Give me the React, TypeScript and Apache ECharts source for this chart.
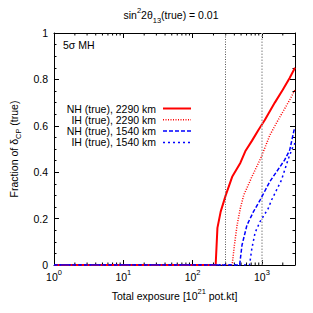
import React, { useEffect, useRef } from 'react';
import * as echarts from 'echarts';

const SERIES_NAMES = [
  'NH (true), 2290 km',
  'IH (true), 2290 km',
  'NH (true), 1540 km',
  'IH (true), 1540 km',
];
const NH_2290 = [[1, 0], [215, 0], [228, 0.16], [254, 0.23], [300, 0.30], [372, 0.38], [488, 0.44], [575, 0.49], [716, 0.535], [890, 0.582], [1100, 0.625], [1535, 0.70], [2000, 0.755], [2500, 0.805], [3000, 0.85]];
const IH_2290 = [[1, 0], [372, 0], [401, 0.086], [438, 0.172], [488, 0.244], [545, 0.30], [716, 0.38], [961, 0.46], [1303, 0.56], [1712, 0.625], [2500, 0.71], [3000, 0.755]];
const NH_1540 = [[1, 0], [477, 0], [516, 0.086], [608, 0.172], [755, 0.23], [940, 0.28], [1303, 0.36], [2130, 0.453], [2520, 0.496], [2900, 0.58], [3000, 0.59]];
const IH_1540 = [[1, 0], [662, 0], [716, 0.072], [798, 0.14], [940, 0.187], [1233, 0.244], [1378, 0.28], [1913, 0.366], [2375, 0.453], [2800, 0.51], [3000, 0.525]];
const VLINES = [300, 1000];
const MINOR_X = [2, 3, 4, 5, 6, 7, 8, 9, 20, 30, 40, 50, 60, 70, 80, 90, 200, 300, 400, 500, 600, 700, 800, 900, 2000];
const X_MIN = 1;
const X_MAX = 3000;
const Y_MIN = 0;
const Y_MAX = 1;
const Y_STEP = 0.2;

const FONT = 'Liberation Sans';
const FS = 10.5;
const rich = {
  n: { fontFamily: FONT, fontSize: FS, color: '#000', lineHeight: 18, verticalAlign: 'middle' },
  sup: { fontFamily: FONT, fontSize: 7.5, color: '#000', lineHeight: 8, verticalAlign: 'top' },
  sub: { fontFamily: FONT, fontSize: 7.5, color: '#000', lineHeight: 8, verticalAlign: 'bottom' },
};

const LINE_STYLES = [
  { color: '#ff0000', width: 2, type: 'solid' as any },
  { color: '#ff0000', width: 1.5, type: [1, 1.5] as any },
  { color: '#0000ff', width: 1.5, type: [4, 2] as any },
  { color: '#0000ff', width: 1.5, type: [2, 3] as any },
];
const DATASETS = [NH_2290, IH_2290, NH_1540, IH_1540];

export default function App() {
  const ref = useRef<HTMLDivElement>(null);
  useEffect(() => {
    document.body.style.margin = '0';
    const chart = echarts.init(ref.current!, null, { renderer: 'svg' });
    const xLabel = (v: number) => {
      const l = Math.log10(v);
      if (Math.abs(l - Math.round(l)) > 1e-6) return '';
      return `{n|10}{sup|${Math.round(l)}}`;
    };
    const legendGraphics: any[] = [];
    SERIES_NAMES.forEach((name, i) => {
      const y = 108.5 + i * 11.3;
      legendGraphics.push({
        type: 'text',
        x: 156,
        y,
        style: { text: name, fontFamily: FONT, fontSize: FS, fill: '#000', align: 'right', verticalAlign: 'middle' },
      });
      const ls = LINE_STYLES[i];
      legendGraphics.push({
        type: 'line',
        shape: { x1: 163, y1: y, x2: 191, y2: y },
        style: {
          stroke: ls.color,
          lineWidth: ls.width,
          lineDash: Array.isArray(ls.type) ? ls.type : null,
        },
      });
    });
    const minorTickSeries = {
      type: 'custom',
      silent: true,
      data: MINOR_X.map((v) => [v]),
      renderItem: (_p: any, api: any) => {
        const v = api.value(0);
        const b = api.coord([v, Y_MIN]);
        const t = api.coord([v, Y_MAX]);
        return {
          type: 'group',
          children: [
            { type: 'line', shape: { x1: b[0], y1: b[1], x2: b[0], y2: b[1] - 2.5 }, style: { stroke: '#000', lineWidth: 1 } },
            { type: 'line', shape: { x1: t[0], y1: t[1], x2: t[0], y2: t[1] + 2.5 }, style: { stroke: '#000', lineWidth: 1 } },
          ],
        };
      },
      z: 1,
    };
    const axisCommon = {
      axisLine: { show: true, onZero: false, lineStyle: { color: '#000', width: 1 } },
      axisTick: { show: true, inside: true, length: 5, lineStyle: { color: '#000' } },
      splitLine: { show: false },
    };
    chart.setOption({
      animation: false,
      grid: { left: 51, right: 18, top: 33, bottom: 48, containLabel: false },
      xAxis: [
        {
          type: 'log',
          logBase: 10,
          min: X_MIN,
          max: X_MAX,
          interval: 1,
          position: 'bottom',
          ...axisCommon,
          axisLabel: { formatter: xLabel, rich, margin: 3, showMaxLabel: false },
          name: '{n|Total exposure [10}{sup|21}{n| pot.kt]}',
          nameLocation: 'middle',
          nameGap: 20,
          nameTextStyle: { rich },
        },
        {
          type: 'log',
          logBase: 10,
          min: X_MIN,
          max: X_MAX,
          interval: 1,
          position: 'top',
          ...axisCommon,
          axisLabel: { show: false },
        },
      ],
      yAxis: [
        {
          type: 'value',
          min: Y_MIN,
          max: Y_MAX,
          interval: Y_STEP,
          position: 'left',
          ...axisCommon,
          minorTick: { show: true, splitNumber: 4, length: 2.5, lineStyle: { color: '#000' } },
          axisLabel: { fontFamily: FONT, fontSize: FS, color: '#000', margin: 6 },
          name: '{n|Fraction of δ}{sub|CP}{n| (true)}',
          nameLocation: 'middle',
          nameRotate: 90,
          nameGap: 28,
          nameTextStyle: { rich },
        },
        {
          type: 'value',
          min: Y_MIN,
          max: Y_MAX,
          interval: Y_STEP,
          position: 'right',
          ...axisCommon,
          minorTick: { show: true, splitNumber: 4, length: 2.5, lineStyle: { color: '#000' } },
          axisLabel: { show: false },
        },
      ],
      graphic: [
        {
          type: 'text',
          x: 171,
          y: 15,
          style: {
            text: '{n|sin}{sup|2}{n|2θ}{sub|13}{n|(true) = 0.01}',
            rich,
            align: 'center',
            verticalAlign: 'middle',
          },
        },
        {
          type: 'text',
          x: 63,
          y: 45,
          style: { text: '5σ MH', fontFamily: FONT, fontSize: FS, fill: '#000', verticalAlign: 'middle' },
        },
        ...legendGraphics,
      ],
      series: [
        ...DATASETS.map((d, i) => ({
          type: 'line',
          name: SERIES_NAMES[i],
          data: d,
          showSymbol: false,
          symbol: 'none',
          lineStyle: LINE_STYLES[i],
          itemStyle: { color: LINE_STYLES[i].color },
          z: 3 + i,
          ...(i === 0
            ? {
                markLine: {
                  silent: true,
                  symbol: 'none',
                  label: { show: false },
                  data: VLINES.map((v, j) => ({
                    xAxis: v,
                    lineStyle: j === 0
                      ? { color: '#555', width: 1, type: [1, 1.5] }
                      : { color: '#aaa', width: 1.5, type: [1.5, 1.5] },
                  })),
                },
              }
            : {}),
        })),
        minorTickSeries,
      ],
    });
    return () => chart.dispose();
  }, []);
  return <div ref={ref} style={{ width: 313, height: 313 }} />;
}
